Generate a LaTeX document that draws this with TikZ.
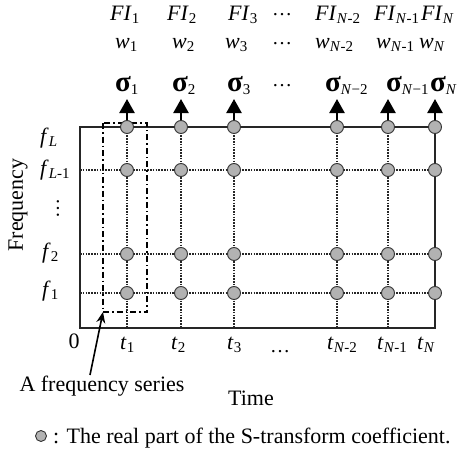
\documentclass[tikz,border=0pt]{standalone}
\usepackage{fontspec}
\setmainfont{Liberation Serif}
\usetikzlibrary{arrows.meta}
\newcommand{\lsb}[2]{#1\raisebox{-0.35ex}{\fontsize{15}{15}\selectfont #2}}
\newcommand{\sgm}[1]{{\fontsize{29}{29}\selectfont\bfseries σ}\raisebox{-0.3ex}{\fontsize{15}{15}\selectfont #1}}
\begin{document}
\begin{tikzpicture}[x=1pt,y=-1pt,
  lab/.style={font=\fontsize{22}{22}\selectfont, inner sep=0pt, anchor=base west},
  txt/.style={font=\fontsize{22}{22}\selectfont, inner sep=0pt, anchor=base},
  dotsnode/.style={font=\fontsize{20}{20}\selectfont, inner sep=0pt},
  coef/.style={circle, draw=black!80, fill=black!30, line width=0.9pt, minimum size=13pt, inner sep=0pt},
  gridline/.style={line width=1.1pt, black!85, dash pattern=on 1.6pt off 1.2pt},
  axis/.style={line width=1.2pt, black!85},
  seriesbox/.style={line width=1.7pt, black, dash pattern=on 6pt off 3pt on 1.5pt off 3pt},
  uparrow/.style={line width=2.4pt, -{Triangle[length=14pt,width=15pt]}},
  pointer/.style={line width=1.6pt, -{Stealth[length=11pt,width=9pt]}}]
\useasboundingbox (0,0) rectangle (458,455);

% axis frame
\coordinate (o) at (80,328);
\coordinate (tl) at (80,127);
\coordinate (tr) at (435,127);
\coordinate (br) at (435,328);

% grid lines
\foreach \x in {127,181,234,337,388} {
  \draw[gridline] (\x,127) -- (\x,328);
}
\foreach \y in {170,254,293} {
  \draw[gridline] (80,\y) -- (435,\y);
}
\draw[axis] (tl) -- (tr) -- (br) -- (o) -- cycle;

% frequency-series box
\coordinate (sbtl) at (103,123);
\coordinate (sbbr) at (147,312);
\coordinate (sbbl) at (103,312);
\draw[seriesbox] (sbtl) rectangle (sbbr);

% coefficients
\foreach \c/\x in {1/127,2/181,3/234,4/337,5/388,6/435} {
  \foreach \r/\y in {1/127,2/170,3/254,4/293} {
    \node[coef] (p\c\r) at (\x,\y) {};
  }
  \coordinate (tip\c) at (\x,99);
  \draw[uparrow] (p\c1.north) -- (tip\c);
}

% FI row
\node[lab] (fi1) at (110,20) {\lsb{\textit{FI}}{1}};
\node[lab] (fi2) at (167,20) {\lsb{\textit{FI}}{2}};
\node[lab] (fi3) at (228,20) {\lsb{\textit{FI}}{3}};
\node[dotsnode] (fid) at (282,15) {…};
\node[lab] (fi4) at (315,20) {\lsb{\textit{FI}}{\textit{N}-2}};
\node[lab] (fi5) at (374,20) {\lsb{\textit{FI}}{\textit{N}-1}};
\node[lab] (fi6) at (421,20) {\lsb{\textit{FI}}{\textit{N}}};
% w row
\node[lab] (w1) at (115,48) {\lsb{\textit{w}}{1}};
\node[lab] (w2) at (172,48) {\lsb{\textit{w}}{2}};
\node[lab] (w3) at (225,48) {\lsb{\textit{w}}{3}};
\node[dotsnode] (wd) at (282,44) {…};
\node[lab] (w4) at (315,48) {\lsb{\textit{w}}{\textit{N}-2}};
\node[lab] (w5) at (376,48) {\lsb{\textit{w}}{\textit{N}-1}};
\node[lab] (w6) at (419,48) {\lsb{\textit{w}}{\textit{N}}};
% sigma row
\node[lab] (s1) at (115,91) {\sgm{1}};
\node[lab] (s2) at (172,91) {\sgm{2}};
\node[lab] (s3) at (227,91) {\sgm{3}};
\node[dotsnode] (sd) at (282,86) {…};
\node[lab] (s4) at (325,91) {\sgm{\textit{N}−2}};
\node[lab] (s5) at (386,91) {\sgm{\textit{N}−1}};
\node[lab] (s6) at (430,91) {\sgm{\textit{N}}};

% frequency labels
\node[lab] (fL) at (40,143) {\lsb{\textit{f}}{\textit{L}}};
\node[lab] (fL1) at (40,175) {\lsb{\textit{f}}{\textit{L}-1}};
\node[dotsnode, rotate=90] (fd) at (58,208) {…};
\node[lab] (f2) at (42,258) {\lsb{\textit{f}}{2}};
\node[lab] (f1) at (42,296) {\lsb{\textit{f}}{1}};
\node[txt, rotate=90, anchor=center] (freq) at (18,205) {Frequency};

% time labels
\node[txt] (zero) at (74,348) {0};
\node[lab] (t1) at (120,349) {\lsb{\textit{t}}{1}};
\node[lab] (t2) at (171,349) {\lsb{\textit{t}}{2}};
\node[lab] (t3) at (227,349) {\lsb{\textit{t}}{3}};
\node[dotsnode] (td) at (280,352) {…};
\node[lab] (t4) at (327,349) {\lsb{\textit{t}}{\textit{N}-2}};
\node[lab] (t5) at (377,349) {\lsb{\textit{t}}{\textit{N}-1}};
\node[lab] (t6) at (417,349) {\lsb{\textit{t}}{\textit{N}}};
\node[txt] (time) at (251,405) {Time};

% frequency series label and pointer
\node[txt] (fs) at (102,391) {A frequency series};
\coordinate (fsstart) at (90,375);
\draw[pointer] (fsstart) -- (sbbl);

% legend
\node[coef, minimum size=11pt] (legdot) at (41,436) {};
\node[txt, anchor=base west] (legtxt) at (53,443) {: The real part of the S-transform coefficient.};
\end{tikzpicture}
\end{document}
